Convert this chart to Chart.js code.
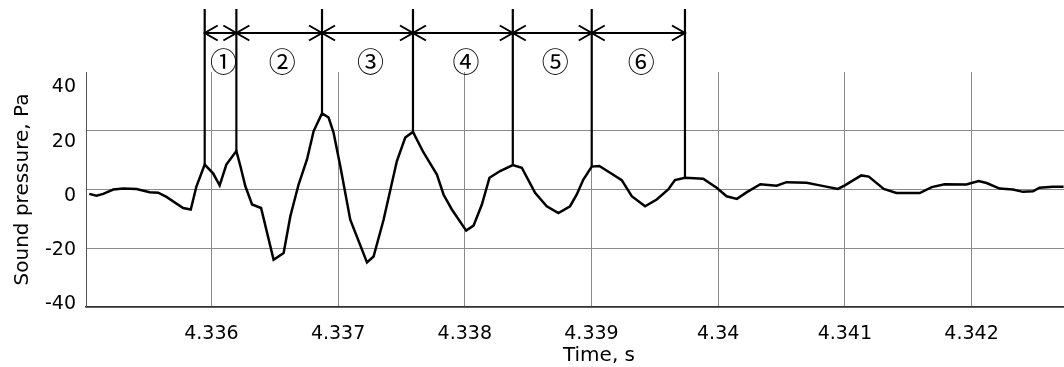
<!DOCTYPE html>
<html>
<head>
<meta charset="utf-8">
<script src="https://cdn.jsdelivr.net/npm/chart.js@4.4.1/dist/chart.umd.min.js"></script>
<style>
  html, body { margin: 0; padding: 0; background: #fff; }
  #wrap { width: 1064px; height: 367px; position: relative; }
</style>
</head>
<body>
<div id="wrap"><canvas id="c"></canvas></div>
<script>
// ---- data ----
const times = [
  4.335036, 4.335093, 4.335146, 4.335225, 4.335304, 4.335409, 4.335513, 4.335580, 4.335645, 4.335777,
  4.335837, 4.335882, 4.335947, 4.336013, 4.336065, 4.336118, 4.336197, 4.336229, 4.336268, 4.336321,
  4.336392, 4.336491, 4.336570, 4.336623, 4.336688, 4.336755, 4.336807, 4.336873, 4.336925, 4.336964,
  4.337017, 4.337096, 4.337228, 4.337280, 4.337359, 4.337464, 4.337530, 4.337591, 4.337674, 4.337780,
  4.337832, 4.337898, 4.338011, 4.338069, 4.338135, 4.338195, 4.338279, 4.338379, 4.338450, 4.338555,
  4.338647, 4.338739, 4.338831, 4.338884, 4.338936, 4.339002, 4.339062, 4.339147, 4.339239, 4.339318,
  4.339423, 4.339515, 4.339606, 4.339659, 4.339738, 4.339882, 4.339988, 4.340067, 4.340148, 4.340227,
  4.340333, 4.340461, 4.340540, 4.340698, 4.340803, 4.340945, 4.341000, 4.341130, 4.341189, 4.341307,
  4.341407, 4.341591, 4.341686, 4.341788, 4.341959, 4.342056, 4.342119, 4.342222, 4.342327, 4.342406,
  4.342485, 4.342537, 4.342642, 4.342727
];
const pressure = [
  -1.5, -2.1, -1.5, 0, 0.3, 0.2, -0.9, -1.1, -2.5, -6.3,
  -6.8, 1.1, 8.5, 5.5, 1.4, 8.5, 13.1, 7.9, 1.1, -5.1,
  -6.3, -23.9, -21.6, -9.1, 1.7, 10.3, 19.9, 25.9, 24.5, 19.4,
  8.0, -10.3, -24.8, -22.8, -10.3, 9.7, 17.7, 19.6, 12.6, 5.1,
  -1.7, -6.8, -14.0, -12.3, -5.1, 4.0, 6.3, 8.3, 7.4, -1.1,
  -5.7, -8.0, -5.7, -1.7, 3.4, 7.8, 8.0, 5.7, 3.2, -2.3,
  -5.7, -3.4, 0, 3.2, 4.0, 3.7, 0.6, -2.3, -3.2, -0.9,
  1.8, 1.3, 2.5, 2.3, 1.4, 0.2, 1.4, 4.8, 4.4, 0.2,
  -1.2, -1.2, 0.8, 1.8, 1.7, 2.9, 2.2, 0.3, 0, -0.8,
  -0.6, 0.6, 0.9, 0.9
];
const xTicks = [4.336, 4.337, 4.338, 4.339, 4.340, 4.341, 4.342];
const yTicks = [-40, -20, 0, 20, 40];
// indices (into the series) of the peaks that bound the marked periods
const boundaryIdx = [12, 16, 27, 37, 47, 55, 64];
const segLabels = ['①', '②', '③', '④', '⑤', '⑥'];
const xTitle = 'Time, s';
const yTitle = 'Sound pressure, Pa';

const FONT = '"DejaVu Sans", Verdana, sans-serif';
const GRID = '#8a8a8a';

const annotate = {
  id: 'annotate',
  afterDraw(chart) {
    const ctx = chart.ctx;
    const xs = chart.scales.x, ys = chart.scales.y;
    ctx.save();
    ctx.strokeStyle = '#000';
    ctx.fillStyle = '#000';
    ctx.lineWidth = 2.2;
    ctx.lineCap = 'butt';
    const bx = boundaryIdx.map(i => xs.getPixelForValue(times[i]));
    // vertical markers down to the peaks
    boundaryIdx.forEach((i, k) => {
      const px = bx[k], py = ys.getPixelForValue(pressure[i]);
      ctx.beginPath(); ctx.moveTo(px, 9); ctx.lineTo(px, py); ctx.stroke();
    });
    // dimension line with arrowheads
    const ay = 33, al = 13, aw = 7.5;
    ctx.lineWidth = 2;
    ctx.beginPath(); ctx.moveTo(bx[0], ay); ctx.lineTo(bx[bx.length - 1], ay); ctx.stroke();
    for (let k = 0; k < bx.length - 1; k++) {
      const a = bx[k], b = bx[k + 1];
      ctx.beginPath();
      ctx.moveTo(a + al, ay - aw); ctx.lineTo(a, ay); ctx.lineTo(a + al, ay + aw);
      ctx.moveTo(b - al, ay - aw); ctx.lineTo(b, ay); ctx.lineTo(b - al, ay + aw);
      ctx.stroke();
      ctx.font = '27px "Noto Sans CJK JP", "DejaVu Sans", sans-serif';
      ctx.textAlign = 'center';
      ctx.textBaseline = 'middle';
      ctx.fillText(segLabels[k], (a + b) / 2 + 3, 62);
    }
    // axis titles
    ctx.font = '20px ' + FONT;
    ctx.textAlign = 'center';
    ctx.textBaseline = 'alphabetic';
    ctx.fillText(xTitle, 599, 361);
    ctx.translate(28, (chart.chartArea.top + chart.chartArea.bottom) / 2);
    ctx.rotate(-Math.PI / 2);
    ctx.fillText(yTitle, 0, 0);
    ctx.restore();
  }
};

new Chart(document.getElementById('c'), {
  type: 'line',
  data: {
    datasets: [{
      data: times.map((t, i) => ({ x: t, y: pressure[i] })),
      borderColor: '#000',
      borderWidth: 2.5,
      pointRadius: 0,
      tension: 0,
      fill: false
    }]
  },
  options: {
    responsive: true,
    maintainAspectRatio: false,
    animation: false,
    devicePixelRatio: 1,
    layout: { padding: { top: 72, right: 0, bottom: 0, left: 0 } },
    plugins: { legend: { display: false }, tooltip: { enabled: false } },
    scales: {
      x: {
        type: 'linear',
        position: 'bottom',
        min: 4.33501,
        max: 4.34273,
        afterBuildTicks: s => { s.ticks = xTicks.map(v => ({ value: v })); },
        afterFit: s => { s.height = 60; },
        ticks: {
          autoSkip: false,
          maxRotation: 0,
          padding: 16,
          color: '#000',
          font: { family: FONT, size: 19 },
          callback: v => String(+(+v).toFixed(3))
        },
        grid: { color: GRID, lineWidth: 1, drawTicks: false },
        border: { color: '#333', width: 1.5 }
      },
      y: {
        type: 'linear',
        position: 'left',
        weight: 0,
        min: -40,
        max: 40,
        afterBuildTicks: s => { s.ticks = yTicks.map(v => ({ value: v })); },
        afterFit: s => { s.width = 0; },
        ticks: { display: false },
        grid: {
          color: c => (c.tick && c.tick.value === 40) ? 'rgba(0,0,0,0)' : GRID,
          lineWidth: 1,
          drawTicks: false
        },
        border: { display: false }
      },
      yl: {
        type: 'linear',
        position: 'left',
        weight: 1,
        min: -41.11,
        max: 45.73,
        afterBuildTicks: s => { s.ticks = yTicks.map(v => ({ value: v })); },
        afterFit: s => { s.width = 86; },
        ticks: {
          padding: 10,
          color: '#000',
          font: { family: FONT, size: 19 }
        },
        grid: { display: false, drawTicks: false },
        border: { display: true, color: '#555', width: 1 }
      }
    }
  },
  plugins: [annotate]
});
</script>
</body>
</html>
